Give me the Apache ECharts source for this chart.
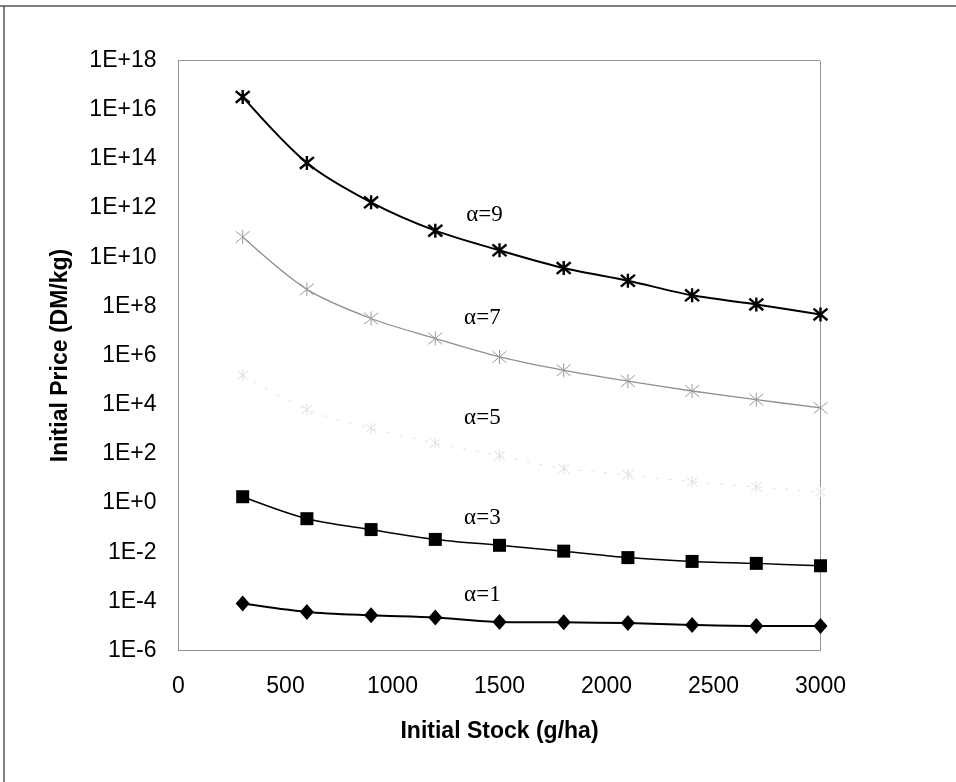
<!DOCTYPE html>
<html>
<head>
<meta charset="utf-8">
<script src="https://cdn.jsdelivr.net/npm/echarts@6/dist/echarts.min.js"></script>
<style>
html,body{margin:0;padding:0;background:#fff;}
#chart{width:956px;height:782px;}
</style>
</head>
<body>
<div id="chart"></div>
<script>
// Data
const stock = [300, 600, 900, 1200, 1500, 1800, 2100, 2400, 2700, 3000];
const alpha9 = [3.3e16, 6.8e13, 1.7e12, 1.2e11, 1.9e10, 3.6e9, 1.1e9, 2.8e8, 1.2e8, 4.7e7];
const alpha7 = [6.6e10, 4.9e8, 3.2e7, 4.9e6, 8.7e5, 2.5e5, 9.1e4, 3.6e4, 1.6e4, 7.4e3];
const alpha5 = [1.6e5, 6.3e3, 1.1e3, 270, 85, 25, 14, 7.2, 4.5, 2.8];
const alpha3 = [1.8, 0.23, 0.083, 0.033, 0.019, 0.011, 0.006, 0.0042, 0.0035, 0.0028];
const alpha1 = [8.1e-5, 3.7e-5, 2.7e-5, 2.2e-5, 1.45e-5, 1.4e-5, 1.3e-5, 1.1e-5, 1.0e-5, 1.0e-5];

const seriesNames = ['α=9', 'α=7', 'α=5', 'α=3', 'α=1'];
// annotation anchors (data coordinates)
const annX = [1430, 1420, 1420, 1420, 1420];
const annY = [5e11, 3.4e7, 2.8e3, 0.24, 1.9e-4];

const yTickLabels = ['1E-6','1E-4','1E-2','1E+0','1E+2','1E+4','1E+6','1E+8','1E+10','1E+12','1E+14','1E+16','1E+18'];
const xTicks = [0, 500, 1000, 1500, 2000, 2500, 3000];

const starPath = 'path://M0,0L10,10M10,0L0,10M5,-1L5,11';
const FONT = '"Liberation Sans", Arial, sans-serif';

function pairs(arr){ return stock.map((x,i)=>[x, arr[i]]); }

function annotate(i){
  return {
    silent: true,
    symbol: 'circle',
    symbolSize: 0,
    data: [{coord: [annX[i], annY[i]], value: seriesNames[i]}],
    label: {
      show: true, position: 'inside', formatter: seriesNames[i],
      fontFamily: '"Liberation Serif", "DejaVu Serif", serif', fontSize: 23, color: '#000'
    }
  };
}

const frameLine = {show: true, onZero: false, lineStyle: {color: '#8a8a8a', type: 'dotted', width: 1}};

const chart = echarts.init(document.getElementById('chart'), null, {renderer: 'canvas'});
const option = {
  animation: false,
  backgroundColor: '#fff',
  grid: {left: 178.5, right: 135.5, top: 60.5, bottom: 131.5},
  graphic: [
    {type: 'line', shape: {x1: 0, y1: 6, x2: 956, y2: 6}, style: {stroke: '#555', lineWidth: 1.5}},
    {type: 'line', shape: {x1: 4, y1: 6, x2: 4, y2: 782}, style: {stroke: '#555', lineWidth: 1.5}}
  ],
  xAxis: [{
    type: 'value', min: 0, max: 3000, interval: 500,
    name: 'Initial Stock (g/ha)', nameLocation: 'middle', nameGap: 70,
    nameTextStyle: {fontFamily: FONT, fontWeight: 'bold', fontSize: 23, color: '#000'},
    axisLine: frameLine,
    axisTick: {show: false},
    splitLine: {show: false},
    axisLabel: {
      margin: 25, fontFamily: FONT, fontSize: 23, color: '#000',
      formatter: v => String(xTicks[xTicks.indexOf(v)])
    }
  }, {
    type: 'value', position: 'top', min: 0, max: 3000, interval: 500,
    axisLine: frameLine, axisTick: {show: false}, axisLabel: {show: false}, splitLine: {show: false}
  }],
  yAxis: [{
    type: 'log', logBase: 10, min: 1e-6, max: 1e18, interval: 2, position: 'left',
    name: 'Initial Price (DM/kg)', nameLocation: 'middle', nameGap: 106,
    nameTextStyle: {fontFamily: FONT, fontWeight: 'bold', fontSize: 23, color: '#000'},
    axisLine: frameLine,
    axisTick: {show: false},
    splitLine: {show: false},
    minorTick: {show: false},
    axisLabel: {
      margin: 22, fontFamily: FONT, fontSize: 23, color: '#000',
      formatter: v => {
        const e = Math.round(Math.log10(v));
        const idx = (e + 6) / 2;
        return yTickLabels[idx] !== undefined ? yTickLabels[idx] : '';
      }
    }
  }, {
    type: 'log', logBase: 10, position: 'right', min: 1e-6, max: 1e18, interval: 2,
    axisLine: frameLine, axisTick: {show: false}, axisLabel: {show: false}, splitLine: {show: false}
  }],
  series: [
    {
      name: seriesNames[0], type: 'line', data: pairs(alpha9), smooth: 0.3,
      symbol: starPath, symbolSize: 14,
      lineStyle: {color: '#000', width: 2},
      itemStyle: {color: '#000', borderColor: '#000', borderWidth: 2.4},
      markPoint: annotate(0)
    },
    {
      name: seriesNames[1], type: 'line', data: pairs(alpha7), smooth: 0.3,
      symbol: starPath, symbolSize: 14,
      lineStyle: {color: '#8f8f8f', width: 1.3},
      itemStyle: {color: '#9a9a9a', borderColor: '#9a9a9a', borderWidth: 1},
      markPoint: annotate(1)
    },
    {
      name: seriesNames[2], type: 'line', data: pairs(alpha5), smooth: 0.3,
      symbol: starPath, symbolSize: 11,
      lineStyle: {color: '#e2e2e2', width: 1, type: [3, 10]},
      itemStyle: {color: '#dedede', borderColor: '#dedede', borderWidth: 1},
      markPoint: annotate(2)
    },
    {
      name: seriesNames[3], type: 'line', data: pairs(alpha3), smooth: 0.3,
      symbol: 'rect', symbolSize: 13,
      lineStyle: {color: '#000', width: 1.5},
      itemStyle: {color: '#000'},
      markPoint: annotate(3)
    },
    {
      name: seriesNames[4], type: 'line', data: pairs(alpha1), smooth: 0.3,
      symbol: 'diamond', symbolSize: [14, 16],
      lineStyle: {color: '#000', width: 2},
      itemStyle: {color: '#000'},
      markPoint: annotate(4)
    }
  ]
};
chart.setOption(option);
</script>
</body>
</html>
